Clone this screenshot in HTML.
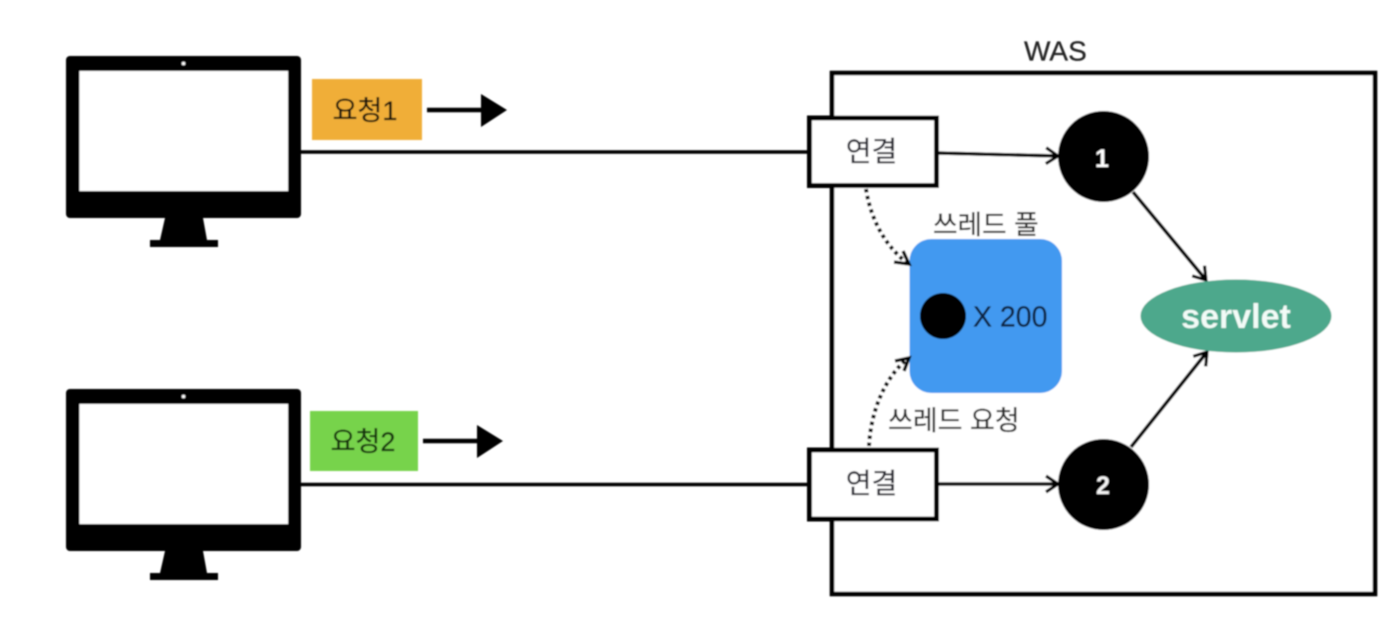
<!DOCTYPE html>
<html><head><meta charset="utf-8"><style>
html,body{margin:0;padding:0;background:#fff}
svg{display:block}
text{font-family:"Liberation Sans","Noto Sans CJK KR",sans-serif}
</style></head><body>
<svg width="1392" height="634" viewBox="0 0 1392 634" xmlns="http://www.w3.org/2000/svg">
<defs>
<filter id="b" x="-5%" y="-5%" width="110%" height="110%"><feGaussianBlur stdDeviation="0.8"/></filter>
<marker id="op" markerUnits="userSpaceOnUse" markerWidth="18" markerHeight="20" refX="15" refY="10" orient="auto"><path d="M3 2L15 10L3 18" fill="none" stroke="#000" stroke-width="3.2"/></marker>
<g id="mon">
<rect x="66" y="56" width="235" height="162" rx="4" fill="#000"/>
<rect x="79.5" y="71" width="208.5" height="120" fill="#fff"/>
<circle cx="183.5" cy="63.5" r="1.8" fill="#fff"/>
<path d="M165 218H203L207 240H218V247H150V240H160Z" fill="#000"/>
</g>
</defs>
<g filter="url(#b)">
<rect x="832" y="73" width="543" height="521" fill="#fff" stroke="#000" stroke-width="4.6"/>
<use href="#mon"/>
<use href="#mon" y="333"/>
<line x1="301" y1="152" x2="810" y2="152" stroke="#000" stroke-width="3.4"/>
<line x1="301" y1="484.500" x2="810" y2="484.500" stroke="#000" stroke-width="3.4"/>
<rect x="312" y="79" width="110" height="61" fill="#f0ae37"/>
<rect x="310" y="411" width="108" height="60" fill="#77d34c"/>
<text x="365" y="120" font-size="27" text-anchor="middle" fill="#1a1408" stroke="#1a1408" stroke-width="0.3">요청1</text>
<text x="363" y="451" font-size="27" text-anchor="middle" fill="#12300a" stroke="#12300a" stroke-width="0.3">요청2</text>
<line x1="427" y1="110" x2="485" y2="110" stroke="#000" stroke-width="4.5"/>
<path d="M481 94L507 110L481 127Z" fill="#000"/>
<line x1="423" y1="441" x2="481" y2="441" stroke="#000" stroke-width="4.5"/>
<path d="M477 425L503 441L477 458Z" fill="#000"/>
<rect x="809.500" y="118" width="127" height="67.500" fill="#fff" stroke="#000" stroke-width="5"/>
<rect x="809.500" y="450" width="127" height="69" fill="#fff" stroke="#000" stroke-width="5"/>
<text x="871.500" y="161" font-size="28" text-anchor="middle" fill="#2c2c34" stroke="#2c2c34" stroke-width="0.25">연결</text>
<text x="871.500" y="493" font-size="28" text-anchor="middle" fill="#2c2c34" stroke="#2c2c34" stroke-width="0.25">연결</text>
<rect x="909.500" y="239" width="152.500" height="154" rx="22" fill="#4299f0"/>
<circle cx="943" cy="316" r="23" fill="#000"/>
<text x="973" y="326.500" font-size="28.500" fill="#10233f" stroke="#10233f" stroke-width="0.25">X 200</text>
<text x="933" y="234" font-size="26.700" fill="#2c2c2c" stroke="#2c2c2c" stroke-width="0.25">쓰레드 풀</text>
<text x="888" y="430" font-size="27" fill="#2c2c2c" stroke="#2c2c2c" stroke-width="0.25">쓰레드 요청</text>
<text x="1024" y="60.500" font-size="28" fill="#222" stroke="#222" stroke-width="0.25">WAS</text>
<line x1="938" y1="153" x2="1058" y2="156" stroke="#000" stroke-width="3.4" marker-end="url(#op)"/>
<line x1="938" y1="484" x2="1058" y2="484" stroke="#000" stroke-width="3.4" marker-end="url(#op)"/>
<circle cx="1103.500" cy="156.500" r="45.500" fill="#000"/>
<circle cx="1103.500" cy="484.500" r="45.500" fill="#000"/>
<text x="1102" y="167" font-size="25" font-weight="bold" text-anchor="middle" fill="#fff">1</text>
<text x="1103" y="494" font-size="25" font-weight="bold" text-anchor="middle" fill="#f4f4f4">2</text>
<line x1="1133" y1="192" x2="1206" y2="280" stroke="#000" stroke-width="3.6" marker-end="url(#op)"/>
<line x1="1131" y1="447" x2="1207" y2="352" stroke="#000" stroke-width="3.6" marker-end="url(#op)"/>
<ellipse cx="1236" cy="316" rx="95.500" ry="36.500" fill="#4ea88c"/>
<text x="1236" y="328" font-size="34" font-weight="bold" text-anchor="middle" fill="#f2fbf7">servlet</text>
<path d="M866 189C870 215 882 243 907 263" fill="none" stroke="#000" stroke-width="4" stroke-dasharray="3.500 3.500"/>
<path d="M894 262L909 264L903 251" fill="none" stroke="#000" stroke-width="3.400"/>
<path d="M869 446C871 410 885 378 907 359" fill="none" stroke="#000" stroke-width="4" stroke-dasharray="3.500 3.500"/>
<path d="M895 361L909 358L904 371" fill="none" stroke="#000" stroke-width="3.400"/>
</g>
</svg>
</body></html>
